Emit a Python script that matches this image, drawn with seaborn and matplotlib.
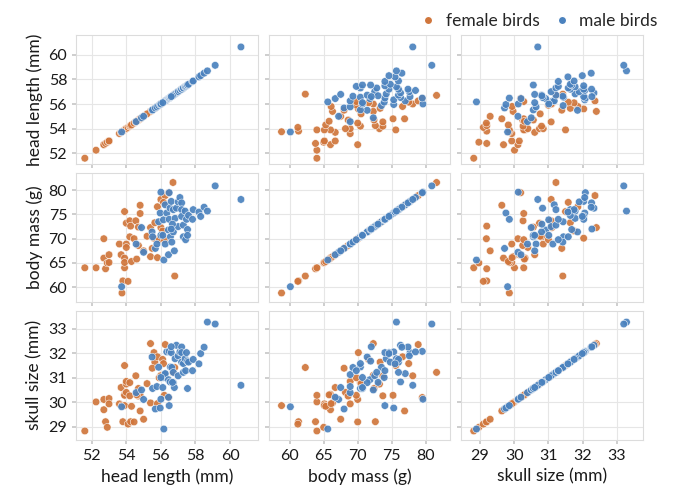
import pandas as pd
import seaborn as sns
import matplotlib.pyplot as plt
from matplotlib.lines import Line2D

# female birds
f_head = [51.6, 52.25, 52.7, 52.7, 52.8, 52.9, 53.0, 53.0, 53.6, 53.7,
          53.75, 53.8, 53.9, 53.9, 53.9, 53.9, 54.0, 54.0, 54.0, 54.1,
          54.2, 54.2, 54.25, 54.3, 54.45, 54.55, 54.7, 54.7, 54.8, 54.8,
          55.0, 55.4, 55.4, 55.6, 55.65, 55.8, 55.8, 55.9, 56.0, 56.0,
          56.1, 56.2, 56.25, 56.45, 56.7, 56.8, 55.5, 56.15, 54.6, 55.2]
f_mass = [64.0, 64.0, 66.0, 70.0, 63.8, 65.0, 66.7, 65.1, 68.9, 66.7,
          58.8, 61.3, 66.0, 64.0, 65.1, 75.6, 73.2, 68.9, 68.2, 61.2,
          73.7, 70.4, 72.6, 65.3, 70.0, 73.7, 72.4, 68.6, 76.9, 75.2,
          67.5, 66.3, 72.3, 70.1, 73.3, 66.1, 76.6, 69.8, 72.3, 78.1,
          71.6, 69.8, 78.9, 79.5, 81.6, 62.3, 68.0, 77.5, 65.8, 70.5]
f_skull = [28.82, 30.01, 29.69, 30.11, 29.2, 28.97, 30.15, 29.93, 29.93, 30.6,
           29.86, 29.2, 30.32, 30.28, 29.86, 31.5, 30.74, 30.85, 30.4, 29.1,
           30.26, 30.8, 29.2, 29.83, 29.19, 31.08, 30.56, 30.25, 29.64, 30.28,
           29.3, 29.97, 32.4, 32.03, 31.64, 29.94, 31.86, 31.0, 31.1, 31.08,
           31.75, 30.28, 32.36, 30.19, 31.22, 31.42, 31.39, 31.58, 30.3, 30.76]

# male birds
m_head = [53.73, 54.57, 54.88, 55.0, 55.49, 55.52, 55.68, 55.77, 55.87, 55.96,
          56.0, 56.15, 56.17, 56.25, 56.25, 56.34, 56.44, 56.44, 56.48, 56.48,
          56.53, 56.55, 56.6, 56.63, 56.72, 56.72, 56.78, 56.82, 56.9, 57.0,
          57.0, 57.1, 57.2, 57.2, 57.2, 57.3, 57.3, 57.4, 57.43, 57.48,
          57.54, 57.54, 57.6, 57.83, 57.87, 58.2, 58.3, 58.5, 58.69, 59.14,
          60.63, 56.0, 56.11, 56.67, 56.6]
m_mass = [60.1, 68.9, 72.3, 67.2, 71.4, 70.4, 68.0, 68.9, 73.5, 75.3,
          79.6, 73.9, 65.6, 68.9, 77.0, 75.3, 71.8, 66.7, 79.5, 74.0,
          76.3, 70.4, 77.7, 69.3, 76.0, 71.4, 67.5, 74.2, 76.3, 77.6,
          72.5, 78.5, 77.4, 76.0, 74.6, 72.8, 70.4, 75.7, 69.8, 74.0,
          71.9, 70.7, 74.8, 74.0, 76.0, 75.5, 74.6, 76.5, 75.7, 80.9,
          78.1, 70.7, 70.7, 73.0, 72.0]
m_skull = [29.81, 30.39, 30.5, 30.11, 31.85, 30.56, 29.72, 30.64, 31.43, 29.76,
           30.12, 31.01, 28.9, 31.13, 31.17, 32.06, 30.92, 30.2, 32.08, 29.86,
           30.83, 31.44, 32.03, 31.42, 31.22, 30.8, 30.6, 31.78, 32.33, 31.9,
           31.08, 32.06, 32.26, 31.64, 32.03, 31.22, 31.58, 31.78, 31.29, 32.03,
           31.68, 30.56, 31.64, 31.29, 31.75, 31.57, 31.99, 32.25, 33.28, 33.2,
           30.69, 31.01, 30.6, 30.81, 32.27]

labels = ["head length (mm)", "body mass (g)", "skull size (mm)"]
sexes = ["female birds", "male birds"]
colors = ["#D0763C", "#4B82BE"]
limits = [(51.1, 61.6), (56.9, 83.6), (28.45, 33.75)]
ticks = [[52, 54, 56, 58, 60], [60, 65, 70, 75, 80], [29, 30, 31, 32, 33]]

birds = pd.DataFrame({
    labels[0]: f_head + m_head,
    labels[1]: f_mass + m_mass,
    labels[2]: f_skull + m_skull,
    "sex": [sexes[0]] * len(f_head) + [sexes[1]] * len(m_head),
})

sns.set_theme(style="whitegrid", rc={
    "axes.edgecolor": "#DCDCDC",
    "axes.linewidth": 0.8,
    "grid.color": "#E6E6E6",
    "grid.linewidth": 0.8,
    "xtick.bottom": True,
    "ytick.left": True,
    "xtick.color": "#C8C8C8",
    "ytick.color": "#C8C8C8",
    "xtick.labelcolor": "#1A1A1A",
    "ytick.labelcolor": "#1A1A1A",
    "xtick.major.size": 3,
    "ytick.major.size": 3,
    "xtick.labelsize": 11.5,
    "ytick.labelsize": 11.5,
    "axes.labelsize": 12.5,
    "axes.labelcolor": "#1A1A1A",
})
plt.rcParams["font.family"] = ["Lato", "DejaVu Sans"]

g = sns.PairGrid(birds, vars=labels, hue="sex", hue_order=sexes,
                 palette=colors, despine=False, height=1.7)
g.map(sns.scatterplot, s=30, edgecolor="white", linewidth=0.4, alpha=0.92, legend=False)

for i in range(3):
    g.axes[0, i].set_xlim(limits[i])
    g.axes[0, i].set_xticks(ticks[i])
    g.axes[i, 0].set_ylim(limits[i])
    g.axes[i, 0].set_yticks(ticks[i])

fig = g.figure
fig.set_size_inches(6.8, 5)
fig.subplots_adjust(left=0.112, right=0.945, top=0.93, bottom=0.12,
                    wspace=0.06, hspace=0.065)

handles = [Line2D([], [], marker="o", linestyle="", markersize=6,
                  markerfacecolor=c, markeredgecolor="white") for c in colors]
fig.legend(handles, sexes, loc="upper right", bbox_to_anchor=(0.99, 1.005),
           ncol=2, frameon=False, fontsize=12.5, handletextpad=0.0,
           columnspacing=0.3)

plt.savefig("out.png", dpi=100)
